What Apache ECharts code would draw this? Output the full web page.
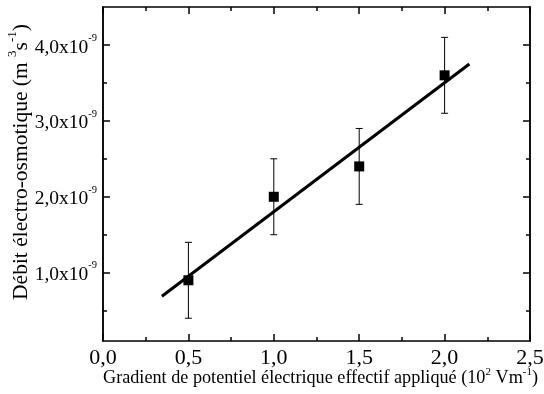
<!DOCTYPE html>
<html>
<head>
<meta charset="utf-8">
<script src="https://cdn.jsdelivr.net/npm/echarts@6/dist/echarts.min.js"></script>
<style>html,body{margin:0;padding:0;background:#fff}#c{width:544px;height:394px}</style>
</head>
<body>
<div id="c"></div>
<script>
// Data
const xData = [0.5, 1.0, 1.5, 2.0];
const yData = [0.9e-9, 2.0e-9, 2.4e-9, 3.6e-9];
const yErr = [0.5e-9, 0.5e-9, 0.5e-9, 0.5e-9];
const fitX = [0.345, 2.145];
const fitY = [0.69e-9, 3.75e-9];
const yMajorTicks = [1e-9, 2e-9, 3e-9, 4e-9];
const yMinorTicks = [0.5e-9, 1.5e-9, 2.5e-9, 3.5e-9];
const yTickLabels = ['1,0', '2,0', '3,0', '4,0'];
const xTickLabels = ['0,0', '0,5', '1,0', '1,5', '2,0', '2,5'];

const FONT = 'Liberation Serif';
function richSet(base, sup, lh) {
  return {
    n: { fontFamily: FONT, fontSize: base, color: '#000', lineHeight: lh, verticalAlign: 'bottom' },
    s: { fontFamily: FONT, fontSize: sup, color: '#000', verticalAlign: 'top' }
  };
}

const scatterData = xData.map((x, i) => [x, yData[i]]);
const errData = xData.map((x, i) => [x, yData[i] - yErr[i], yData[i] + yErr[i]]);
const fitData = fitX.map((x, i) => [x, fitY[i]]);

const lineStyle = { color: '#000', width: 1.5 };
function yAxisDef(pos, ticks, len, labels) {
  return {
    type: 'value', position: pos, min: 0.1e-9, max: 4.5e-9,
    axisLine: { show: true, lineStyle: lineStyle },
    axisTick: { show: true, inside: true, length: len, customValues: ticks, lineStyle: lineStyle },
    axisLabel: labels ? {
      show: true, customValues: yMajorTicks, margin: 6,
      formatter: function (v) {
        const idx = yMajorTicks.findIndex(t => Math.abs(t - v) < 1e-12);
        return '{n|' + yTickLabels[idx] + 'x10}{s|-9}';
      },
      rich: richSet(19.5, 10.5, 25)
    } : { show: false },
    splitLine: { show: false },
    nameMoveOverlap: false
  };
}
function xAxisDef(pos, labels) {
  return {
    type: 'value', position: pos, min: 0, max: 2.5, interval: 0.5,
    axisLine: { show: true, lineStyle: lineStyle },
    axisTick: { show: true, inside: true, length: 7, lineStyle: lineStyle },
    minorTick: { show: true, splitNumber: 2, length: 4, lineStyle: lineStyle },
    axisLabel: labels ? {
      show: true, margin: 6, fontFamily: FONT, fontSize: 22, color: '#000',
      formatter: function (v) { return xTickLabels[Math.round(v / 0.5)]; }
    } : { show: false },
    splitLine: { show: false },
    minorSplitLine: { show: false },
    name: labels ? '{n|Gradient de potentiel électrique effectif appliqué (10}{s|2}{n| Vm}{s|-1}{n|)}' : '',
    nameLocation: 'middle', nameGap: 26, nameMoveOverlap: false,
    nameTextStyle: { rich: richSet(18.2, 11, 20), padding: [0, 0, 0, 8] }
  };
}

const yMainLeft = yAxisDef('left', yMajorTicks, 7, true);
yMainLeft.name = '{n|Débit électro-osmotique (m }{s|3}{n|s}{s|-1}{n|)}';
yMainLeft.nameLocation = 'middle';
yMainLeft.nameGap = 71;
yMainLeft.nameTextStyle = { rich: richSet(21.5, 13, 26), padding: [0, 0, 0, 24] };

const option = {
  animation: false,
  backgroundColor: '#fff',
  grid: { left: 103, right: 14, top: 7, bottom: 53, containLabel: false, outerBoundsMode: 'none' },
  xAxis: [xAxisDef('bottom', true), xAxisDef('top', false)],
  yAxis: [
    yMainLeft,
    yAxisDef('left', yMinorTicks, 4, false),
    yAxisDef('right', yMajorTicks, 7, false),
    yAxisDef('right', yMinorTicks, 4, false)
  ],
  series: [
    {
      type: 'custom', xAxisIndex: 0, yAxisIndex: 0, data: errData, z: 2,
      renderItem: function (params, api) {
        const x = api.value(0), lo = api.value(1), hi = api.value(2);
        const pt = api.coord([x, hi]), pb = api.coord([x, lo]);
        const c = 3.5;
        const st = { stroke: '#000', lineWidth: 1 };
        return {
          type: 'group', children: [
            { type: 'line', shape: { x1: pt[0], y1: pt[1], x2: pb[0], y2: pb[1] }, style: st },
            { type: 'line', shape: { x1: pt[0] - c, y1: pt[1], x2: pt[0] + c, y2: pt[1] }, style: st },
            { type: 'line', shape: { x1: pb[0] - c, y1: pb[1], x2: pb[0] + c, y2: pb[1] }, style: st }
          ]
        };
      }
    },
    {
      type: 'line', xAxisIndex: 0, yAxisIndex: 0, data: fitData, showSymbol: false, z: 3,
      lineStyle: { color: '#000', width: 3 }
    },
    {
      type: 'scatter', xAxisIndex: 0, yAxisIndex: 0, data: scatterData, symbol: 'rect', symbolSize: 10, z: 4,
      itemStyle: { color: '#000', opacity: 1 }
    }
  ]
};
echarts.init(document.getElementById('c')).setOption(option);
</script>
</body>
</html>
